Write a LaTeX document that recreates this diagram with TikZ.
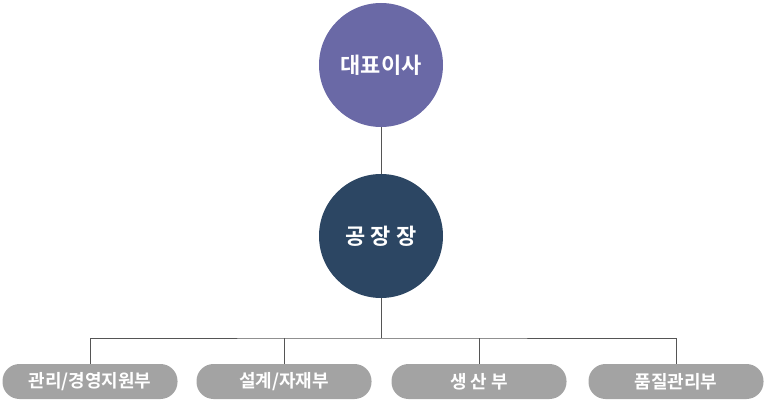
\documentclass[tikz,border=0pt]{standalone}
\usepackage{fontspec}
\newfontfamily\kr{Noto Sans CJK KR}[BoldFont={Noto Sans CJK KR Bold}]
\definecolor{ceo}{HTML}{6A69A6}
\definecolor{fac}{HTML}{2C4663}
\definecolor{pill}{HTML}{A3A3A3}
\definecolor{ln}{HTML}{555555}
\begin{document}
\begin{tikzpicture}[x=1pt,y=-1pt,
  circ/.style={circle,minimum size=124pt,inner sep=0pt,text=white,font=\kr\bfseries\fontsize{22}{26}\selectfont},
  dept/.style={rounded corners=17pt,fill=pill,minimum width=175pt,minimum height=35pt,inner sep=0pt,text=white,font=\kr\bfseries\fontsize{18}{21}\selectfont},
  conn/.style={draw=ln,line width=0.8pt}]
\useasboundingbox (0,0) rectangle (764,401);
\node[circ,fill=ceo] (ceo) at (381,65) {대표이사};
\node[circ,fill=fac] (fac) at (381,236) {공 장 장};
\node[dept] (d1) at (90,381.5) {관리/경영지원부};
\node[dept] (d2) at (284,381.5) {설계/자재부};
\node[dept] (d3) at (479,381.5) {생 산 부};
\node[dept] (d4) at (676,381.5) {품질관리부};
\coordinate (j) at (381,338);
\draw[conn] (ceo) -- (fac);
\draw[conn] (fac) -- (j);
\draw[conn] (d1.north) |- (j) -| (d4.north);
\draw[conn] (d2.north) -- (d2.north |- j);
\draw[conn] (d3.north) -- (d3.north |- j);
\end{tikzpicture}
\end{document}
